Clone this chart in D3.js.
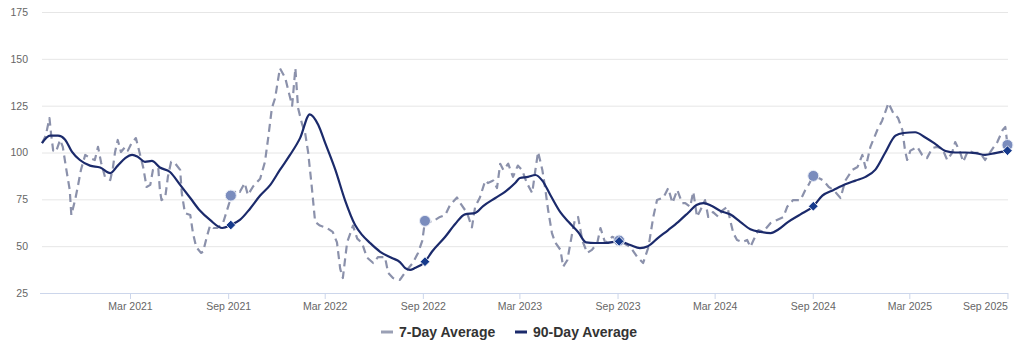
<!DOCTYPE html>
<html><head><meta charset="utf-8">
<script src="https://cdn.jsdelivr.net/npm/d3@7"></script>
<style>
body{margin:0;background:#fff;}
svg{display:block;font-family:"Liberation Sans",Arial,sans-serif;}
</style></head><body>
<svg id="chart" width="1024" height="348"></svg>
<script>
const yTicks = [25,50,75,100,125,150,175];
const xTickDates = ["2021-03-01","2021-09-01","2022-03-01","2022-09-01","2023-03-01","2023-09-01","2024-03-01","2024-09-01","2025-03-01","2025-09-01"];
const laborDays = ["2021-09-06","2022-09-05","2023-09-04","2024-09-02","2025-09-01"];
const seriesNames = ["7-Day Average","90-Day Average"];

const sevenDay = [
["2020-09-17",105],["2020-09-24",109],["2020-10-01",118.4],["2020-10-04",110],["2020-10-08",101],["2020-10-13",100.3],
["2020-10-21",106.7],["2020-10-26",103],["2020-11-01",92],["2020-11-08",80],["2020-11-11",66.6],["2020-11-18",74.6],
["2020-11-23",81.6],["2020-11-29",90.7],["2020-12-07",98.7],["2020-12-16",97],["2020-12-25",96],["2020-12-31",103],
["2021-01-06",94.4],["2021-01-13",87],["2021-01-23",85.3],["2021-01-28",92],["2021-02-01",100.3],["2021-02-06",106.7],
["2021-02-12",100.3],["2021-02-20",103],["2021-02-25",101],["2021-03-04",105],["2021-03-12",107.7],["2021-03-20",98.7],
["2021-03-26",91.7],["2021-04-01",81.6],["2021-04-08",82.7],["2021-04-13",90.7],["2021-04-23",91.7],["2021-04-26",80],
["2021-04-29",74.6],["2021-05-06",76],["2021-05-11",87],["2021-05-17",95],["2021-05-24",94.4],["2021-06-03",90.7],
["2021-06-06",78.4],["2021-06-12",67.7],["2021-06-22",66.6],["2021-06-27",57],["2021-07-03",49.6],["2021-07-12",46.4],
["2021-07-16",47],["2021-07-23",55],["2021-07-29",61],["2021-08-04",59.7],["2021-08-11",59.7],["2021-08-22",62],
["2021-09-03",73],["2021-09-06",77],["2021-09-18",80],["2021-09-23",79],["2021-10-02",83.7],["2021-10-08",77.3],
["2021-10-18",82],["2021-10-31",86],["2021-11-09",95],["2021-11-15",107.7],["2021-11-22",123.8],["2021-11-28",129],
["2021-12-07",145],["2021-12-17",139.8],["2021-12-22",134],["2021-12-30",125],["2022-01-05",145],["2022-01-10",123.8],
["2022-01-18",114.7],["2022-01-23",111],["2022-01-29",100],["2022-02-05",81],["2022-02-11",63],["2022-02-20",61],
["2022-03-05",59.7],["2022-03-16",57.6],["2022-03-24",52],["2022-03-30",38],["2022-04-04",33],["2022-04-12",52],
["2022-04-17",56],["2022-04-23",61],["2022-05-01",54],["2022-05-10",51.7],["2022-05-19",44],["2022-05-31",41],
["2022-06-09",44.2],["2022-06-22",44.2],["2022-06-28",35.7],["2022-07-07",33],["2022-07-20",32],["2022-08-02",37.3],
["2022-08-13",41],["2022-08-23",46.4],["2022-08-31",53],["2022-09-05",63.5],["2022-09-18",62.9],["2022-10-03",65.6],
["2022-10-13",66.6],["2022-10-22",72],["2022-11-04",76],["2022-11-10",73],["2022-11-23",67.7],["2022-12-02",60],
["2022-12-08",71],["2022-12-17",76],["2022-12-27",85],["2023-01-01",83.7],["2023-01-11",85],["2023-01-18",81],
["2023-01-24",94],["2023-01-30",90.7],["2023-02-08",94],["2023-02-17",87],["2023-02-26",93],["2023-03-06",90.7],
["2023-03-15",83.7],["2023-03-25",78.4],["2023-03-31",90.7],["2023-04-05",100.3],["2023-04-13",90.7],["2023-04-18",81.6],
["2023-04-24",69],["2023-05-01",57],["2023-05-07",52],["2023-05-17",48],["2023-05-22",39],["2023-05-30",42.6],
["2023-06-08",57],["2023-06-13",64],["2023-06-19",65.6],["2023-06-27",53],["2023-07-06",46.4],["2023-07-15",48],
["2023-07-25",51.7],["2023-07-31",59.7],["2023-08-09",51.7],["2023-08-22",55],["2023-09-04",53],["2023-09-25",49.6],
["2023-10-08",44.2],["2023-10-19",41],["2023-10-29",49.6],["2023-11-07",65.6],["2023-11-14",74.6],["2023-11-26",76],
["2023-12-05",81],["2023-12-13",73],["2023-12-22",80],["2023-12-31",73],["2024-01-06",73],["2024-01-15",71],
["2024-01-21",79],["2024-01-28",65.6],["2024-02-03",69],["2024-02-12",74.6],["2024-02-18",65.6],["2024-02-27",68.2],
["2024-03-08",65.6],["2024-03-15",69],["2024-03-25",71],["2024-03-30",64],["2024-04-05",57],["2024-04-12",53.3],
["2024-04-22",52.2],["2024-05-01",53.3],["2024-05-07",49.6],["2024-05-13",53.3],["2024-05-22",58.6],["2024-05-31",57.6],
["2024-06-14",62.4],["2024-06-26",64],["2024-07-08",65.6],["2024-07-15",71],["2024-07-26",74.6],["2024-08-09",74.6],
["2024-08-18",80],["2024-08-24",82.7],["2024-09-02",87.5],["2024-09-15",86],["2024-09-21",85],["2024-10-01",81.6],
["2024-10-10",80],["2024-10-23",75.7],["2024-11-01",85],["2024-11-14",90.7],["2024-11-24",92.3],["2024-12-03",98.7],
["2024-12-09",91.7],["2024-12-18",103],["2024-12-31",112],["2025-01-09",117],["2025-01-21",126.4],["2025-01-30",121],
["2025-02-08",118.4],["2025-02-16",112],["2025-02-21",101],["2025-02-25",96],["2025-03-03",101],["2025-03-16",103],
["2025-03-25",98.7],["2025-04-03",97],["2025-04-13",102.4],["2025-04-22",103],["2025-05-02",102],["2025-05-11",96],
["2025-05-20",99.7],["2025-05-26",105.6],["2025-06-04",100.3],["2025-06-10",95],["2025-06-19",101],["2025-06-29",100],
["2025-07-12",99.7],["2025-07-21",96],["2025-07-31",100.3],["2025-08-13",105.6],["2025-08-23",112],["2025-08-28",113.6],
["2025-09-01",104]
];

const ninetyDay = [
["2020-09-17",105],["2020-10-02",109],["2020-10-17",109],["2020-10-30",107],["2020-11-12",100.5],["2020-11-27",96],
["2020-12-16",93],["2021-01-04",92],["2021-01-23",89],["2021-02-06",93],["2021-02-20",97],["2021-03-05",98.7],
["2021-03-16",97.6],["2021-03-29",95],["2021-04-11",95.5],["2021-04-26",92],["2021-05-15",89.6],["2021-06-03",82.7],
["2021-06-22",75.7],["2021-07-10",69],["2021-07-29",64],["2021-08-21",59.7],["2021-09-06",61.3],["2021-09-23",64],
["2021-10-12",70],["2021-10-31",77],["2021-11-19",82.7],["2021-12-07",90.7],["2021-12-26",98.7],["2022-01-14",107.8],
["2022-02-01",120.4],["2022-02-17",114.7],["2022-03-02",105],["2022-03-21",90.7],["2022-04-08",74.6],["2022-04-27",61.3],
["2022-05-10",56],["2022-05-25",51.7],["2022-06-13",47],["2022-07-05",43.7],["2022-07-20",41.5],["2022-07-30",38.3],
["2022-08-08",37.3],["2022-08-17",38.3],["2022-09-05",41.7],["2022-09-18",47],["2022-10-13",55],["2022-11-01",62],
["2022-11-19",67],["2022-12-08",67.7],["2022-12-23",71.4],["2023-01-15",75.7],["2023-02-02",79],["2023-02-21",83.7],
["2023-03-02",86.4],["2023-03-17",87],["2023-03-31",88],["2023-04-13",85],["2023-04-28",77.3],["2023-05-17",68],
["2023-06-01",63],["2023-06-19",57.6],["2023-07-04",52],["2023-07-21",51.7],["2023-08-09",51.7],["2023-09-04",52.6],
["2023-09-25",50.6],["2023-10-13",49],["2023-10-28",50],["2023-11-16",54.4],["2023-12-05",58.6],["2023-12-24",63],
["2024-01-12",68],["2024-01-27",72],["2024-02-09",73],["2024-02-25",71.4],["2024-03-12",68.8],["2024-03-30",67],
["2024-04-18",63],["2024-05-07",59],["2024-05-26",57.6],["2024-06-14",57],["2024-06-29",59],["2024-07-17",63],
["2024-08-09",67],["2024-09-02",71.3],["2024-09-19",77],["2024-10-10",80],["2024-11-01",83],["2024-11-20",85],
["2024-12-09",87],["2024-12-27",90.7],["2025-01-15",100],["2025-02-03",109],["2025-02-18",110.4],["2025-03-12",110.8],
["2025-03-31",108],["2025-04-19",104.5],["2025-05-08",100.8],["2025-05-26",100],["2025-06-14",100],["2025-07-03",99.7],
["2025-07-21",98.7],["2025-08-09",99.7],["2025-09-01",101]
];

const parse = d3.timeParse("%Y-%m-%d");
const s7 = sevenDay.map(d => ({date: parse(d[0]), value: d[1]}));
const s90 = ninetyDay.map(d => ({date: parse(d[0]), value: d[1]}));

const svg = d3.select("#chart");
const plotLeft = 42, plotRight = 1008, plotTop = 12, plotBottom = 293;

const x = d3.scaleTime()
  .domain([parse("2020-09-17"), parse("2025-09-02")])
  .range([plotLeft, plotRight]);
const y = d3.scaleLinear().domain([25, 175]).range([plotBottom, plotTop]);

// gridlines
svg.append("g").selectAll("line").data(yTicks.filter(t => t > 25)).join("line")
  .attr("x1", plotLeft).attr("x2", plotRight)
  .attr("y1", d => y(d) + 0.5).attr("y2", d => y(d) + 0.5)
  .attr("stroke", "#e6e6e6").attr("stroke-width", 1);

// y axis labels
const yAxis = d3.axisLeft(y).tickValues(yTicks).tickSize(0).tickPadding(14);
const gy = svg.append("g").attr("transform", `translate(${plotLeft},0)`).call(yAxis);
gy.select(".domain").remove();
gy.selectAll("text").attr("fill", "#666").style("font-size", "10.5px")
  .style("font-family", "'Liberation Sans', Arial, sans-serif");

// x axis
const xAxis = d3.axisBottom(x).tickValues(xTickDates.map(parse))
  .tickFormat(d3.timeFormat("%b %Y")).tickSize(6).tickPadding(4).tickSizeOuter(0);
const gx = svg.append("g").attr("transform", `translate(0,${plotBottom})`).call(xAxis);
gx.select(".domain").attr("stroke", "#ccd6eb").attr("d", `M${plotLeft - 2},0.5H${plotRight}`);
gx.selectAll(".tick line").attr("stroke", "#ccd6eb");
gx.selectAll("text").attr("fill", "#666").style("font-size", "10.5px")
  .style("font-family", "'Liberation Sans', Arial, sans-serif");
// keep the last label inside the chart, right-aligned to its tick
gx.selectAll(".tick text").filter((d, i, n) => i === n.length - 1)
  .attr("text-anchor", "end").attr("x", 0);

const line7 = d3.line().x(d => x(d.date)).y(d => y(d.value)).curve(d3.curveLinear);
const line90 = d3.line().x(d => x(d.date)).y(d => y(d.value)).curve(d3.curveMonotoneX);

svg.append("path").datum(s7).attr("d", line7)
  .attr("fill", "none").attr("stroke", "#8b91ab").attr("stroke-width", 2.2)
  .attr("stroke-dasharray", "8,5").attr("stroke-linejoin", "round");

svg.append("path").datum(s90).attr("d", line90)
  .attr("fill", "none").attr("stroke", "#1b2a6b").attr("stroke-width", 2.2)
  .attr("stroke-linejoin", "round");

// Labor Day markers
const ld = laborDays.map(parse);
const find = (arr, dt) => arr.find(p => +p.date === +dt);
svg.append("g").selectAll("circle").data(ld.map(d => find(s7, d)).filter(Boolean)).join("circle")
  .attr("cx", d => x(d.date)).attr("cy", d => y(d.value)).attr("r", 5.5)
  .attr("fill", "#7a8cbd").attr("stroke", "#e8ecf6").attr("stroke-width", 1);

svg.append("g").selectAll("path").data(ld.map(d => find(s90, d)).filter(Boolean)).join("path")
  .attr("d", d3.symbol(d3.symbolDiamond2, 60))
  .attr("transform", d => `translate(${x(d.date)},${y(d.value)})`)
  .attr("fill", "#163a8c").attr("stroke", "#ffffff").attr("stroke-width", 0.8);

// legend
const legend = svg.append("g").attr("transform", "translate(0,332)");
const items = [
  {name: seriesNames[0], color: "#9aa0b5", sx: 381, tx: 399},
  {name: seriesNames[1], color: "#1b2a6b", sx: 515, tx: 533}
];
items.forEach(it => {
  legend.append("line").attr("x1", it.sx).attr("x2", it.sx + 12).attr("y1", 0).attr("y2", 0)
    .attr("stroke", it.color).attr("stroke-width", 3);
  legend.append("text").attr("x", it.tx).attr("y", 5).text(it.name)
    .attr("fill", "#333").style("font-size", "14px").style("font-weight", "bold");
});
</script>
</body></html>
